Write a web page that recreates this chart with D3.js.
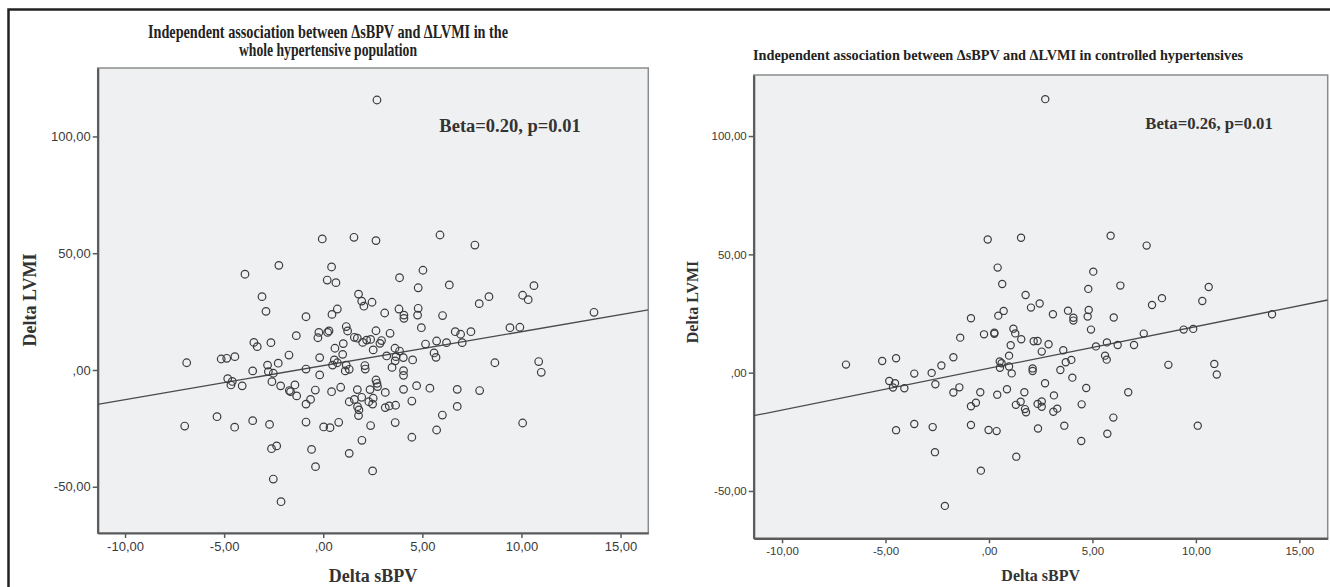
<!DOCTYPE html>
<html lang="en">
<head>
    <meta charset="UTF-8">
    <title>Delta sBPV vs Delta LVMI</title>
    <script src="https://d3js.org/d3.v7.min.js"></script>
    <style>
        body { margin: 0; background: #fff; }
        svg { display: block; }
    </style>
</head>
<body>
    <svg id="chart" width="1330" height="587"></svg>
    <script>
        // axis ticks (shared by both panels)
        var xTicks = [-10, -5, 0, 5, 10, 15];
        var yTicks = [-50, 0, 50, 100];

        var wholeTitle = ["Independent association between \u0394sBPV and \u0394LVMI in the", "whole hypertensive population"];
        var controlledTitle = ["Independent association between \u0394sBPV and \u0394LVMI in controlled hypertensives"];
        var wholeNote = "Beta=0.20, p=0.01";
        var controlledNote = "Beta=0.26, p=0.01";

        // fit line: [intercept, slope]
        var wholeFit = [1.85, 1.454];
        var controlledFit = [1.85, 1.763];

        // [delta sBPV, delta LVMI]
        var wholePoints = [
            [-0.05, 56.1], [1.55, 56.8], [2.66, 55.4], [5.89, 57.8], [7.65, 53.5],
            [-2.24, 44.8], [0.42, 44.1], [5.03, 42.7], [3.85, 39.5], [0.20, 38.5],
            [0.64, 37.4], [4.79, 35.2], [6.36, 36.4], [10.63, 36.1], [-3.09, 31.4],
            [1.78, 32.5], [8.36, 31.4], [7.87, 28.4], [10.06, 32.0], [10.34, 30.1],
            [1.94, 29.5], [2.05, 27.3], [2.46, 29.0], [0.71, 26.1], [0.44, 23.8],
            [-2.89, 25.1], [-0.87, 22.8], [3.10, 24.4], [3.82, 26.1], [4.07, 23.5],
            [4.07, 22.1], [4.79, 26.4], [4.76, 23.5], [6.02, 23.3], [1.16, 18.6],
            [1.23, 16.7], [0.29, 16.7], [0.22, 16.1], [-0.22, 16.1], [-0.27, 13.8],
            [-1.36, 14.7], [4.95, 18.1], [2.66, 16.8], [3.37, 15.7], [1.57, 14.0],
            [1.72, 13.6], [2.19, 12.8], [2.39, 13.1], [1.99, 11.8], [2.94, 12.6],
            [2.86, 11.4], [6.66, 16.4], [6.93, 15.3], [7.01, 11.7], [7.45, 16.4],
            [9.42, 18.1], [9.92, 18.3], [-3.50, 11.8], [-3.33, 10.0], [-2.64, 11.7],
            [1.01, 11.3], [0.59, 9.3], [2.52, 8.6], [3.62, 9.3], [3.85, 8.1],
            [5.16, 11.1], [5.72, 12.4], [6.22, 11.7], [5.59, 7.3], [5.69, 5.4],
            [-1.73, 6.4], [0.98, 6.7], [-0.18, 5.3], [3.20, 6.0], [3.67, 5.7],
            [4.04, 5.3], [4.51, 4.3], [3.63, 3.9], [0.56, 4.3], [0.47, 2.1],
            [0.71, 3.1], [1.16, 2.1], [1.31, 0.3], [1.11, -0.4], [2.10, 1.9],
            [2.12, 0.4], [3.47, 1.1], [4.05, -0.3], [4.05, -2.3], [8.66, 3.1],
            [10.87, 3.6], [11.00, -1.0], [-3.56, -0.4], [-2.81, 2.1], [-2.27, 2.9],
            [-2.77, -0.7], [-2.52, -1.4], [-0.87, 0.4], [-0.18, -2.1], [-2.59, -5.0],
            [-2.15, -6.8], [-1.71, -8.8], [-1.65, -9.3], [-1.43, -6.4], [-1.34, -11.1],
            [-0.40, -8.6], [-0.64, -12.6], [-0.87, -14.6], [0.42, -9.3], [0.88, -7.4],
            [1.72, -8.4], [2.36, -8.4], [2.66, -4.3], [2.71, -5.7], [2.74, -7.1],
            [3.13, -9.6], [4.05, -8.3], [4.71, -6.7], [5.38, -7.8], [6.76, -8.3],
            [7.89, -8.8], [1.31, -13.6], [1.57, -12.6], [1.73, -15.7], [1.80, -17.1],
            [1.78, -19.5], [1.94, -11.7], [2.30, -13.6], [2.52, -12.1], [2.49, -14.6],
            [3.13, -16.1], [3.33, -15.4], [3.65, -15.1], [4.47, -13.3], [6.01, -19.3],
            [6.76, -15.6], [-3.56, -21.7], [-2.71, -23.3], [-0.87, -22.3], [0.02, -24.4],
            [0.34, -24.7], [0.78, -22.4], [2.39, -23.8], [3.63, -22.5], [5.72, -25.7],
            [4.47, -28.8], [1.95, -30.1], [10.06, -22.7], [-2.61, -33.7], [-2.35, -32.5],
            [-0.59, -34.0], [1.31, -35.7], [-0.39, -41.4], [2.49, -43.2], [-2.52, -46.7],
            [2.71, 115.6], [-6.89, 3.1], [-5.15, 4.7], [-4.87, 5.0], [-4.46, 5.7],
            [-4.82, -3.7], [-4.59, -4.9], [-4.66, -6.4], [-4.09, -6.8], [-5.36, -20.0],
            [-6.99, -24.0], [-4.47, -24.5], [-2.13, -56.4], [-3.95, 41.0], [13.66, 24.7]
        ];

        var controlledPoints = [
            [-0.06, 56.3], [1.55, 57.0], [5.88, 57.9], [7.62, 53.7], [0.42, 44.4],
            [5.04, 42.7], [0.64, 37.5], [4.80, 35.4], [6.35, 36.8], [1.77, 32.8],
            [2.45, 29.2], [2.03, 27.5], [-0.87, 23.0], [0.45, 24.1], [0.71, 26.1],
            [3.09, 24.7], [3.82, 26.2], [4.08, 23.2], [4.08, 22.0], [4.82, 26.5],
            [4.77, 23.7], [6.03, 23.3], [7.88, 28.6], [8.36, 31.5], [-1.39, 14.8],
            [-0.24, 16.2], [0.26, 16.9], [0.26, 16.4], [1.18, 18.6], [1.27, 16.6],
            [1.56, 14.1], [4.93, 18.2], [2.16, 13.3], [2.35, 13.4], [2.88, 12.0],
            [1.05, 11.6], [2.55, 8.9], [3.59, 9.5], [5.17, 11.1], [5.70, 12.8],
            [6.22, 11.7], [7.01, 11.7], [7.48, 16.5], [9.41, 18.2], [-1.72, 6.5],
            [-2.30, 3.0], [-2.77, -0.1], [-3.61, -0.4], [-4.09, -6.6], [-2.59, -4.9],
            [0.52, 4.7], [0.61, 4.0], [0.53, 2.1], [0.97, 7.2], [0.97, 2.6],
            [1.10, -0.3], [2.11, 1.8], [2.11, 0.7], [3.45, 1.1], [3.71, 4.4],
            [3.98, 5.4], [5.61, 7.2], [5.69, 5.5], [4.03, -2.1], [2.71, -4.5],
            [8.67, 3.3], [-1.43, -6.2], [-1.72, -8.4], [-0.42, -8.3], [0.40, -9.3],
            [0.87, -7.0], [1.71, -8.3], [3.14, -9.6], [4.70, -6.5], [6.73, -8.3],
            [-0.63, -12.7], [-0.87, -14.2], [1.30, -13.6], [1.53, -12.3], [1.74, -15.4],
            [1.79, -16.7], [2.35, -13.2], [2.55, -12.2], [2.55, -14.4], [3.11, -16.5],
            [3.30, -15.2], [4.48, -13.4], [-3.61, -21.7], [-2.72, -23.0], [-0.87, -22.1],
            [-0.02, -24.2], [0.37, -24.7], [2.37, -23.6], [3.64, -22.4], [6.01, -19.0],
            [5.72, -25.8], [4.46, -28.9], [-2.61, -33.6], [1.32, -35.5], [-0.39, -41.4],
            [2.72, 115.6], [-6.91, 3.4], [-5.16, 4.9], [-4.49, 6.1], [-4.82, -3.5],
            [-4.54, -4.5], [-4.64, -6.3], [-4.49, -24.3], [-2.13, -56.3], [10.31, 30.3],
            [10.62, 36.2], [13.68, 24.7], [9.87, 18.5], [10.09, -22.4], [10.89, 3.7],
            [11.01, -0.8]
        ];

        var svg = d3.select("#chart");

        // outer frame of the figure
        svg.append("rect")
            .attr("x", 8.5).attr("y", 9.5)
            .attr("width", 1400).attr("height", 700)
            .attr("fill", "none")
            .attr("stroke", "#222")
            .attr("stroke-width", 2.5);

        function fmt(v) {
            if (v === 0) return ",00";
            return v.toFixed(2).replace(".", ",");
        }

        function drawPanel(p) {
            var x = d3.scaleLinear().domain(p.xDomain).range([p.left, p.right]);
            var y = d3.scaleLinear().domain(p.yDomain).range([p.bottom, p.top]);
            var g = svg.append("g");

            g.append("rect")
                .attr("x", p.left).attr("y", p.top)
                .attr("width", p.right - p.left).attr("height", p.bottom - p.top)
                .attr("fill", "#eff0f2")
                .attr("stroke", "#8c8c8c")
                .attr("stroke-width", 1.5);

            var ya = g.append("g")
                .attr("transform", "translate(" + p.left + ",0)")
                .call(d3.axisLeft(y).tickValues(yTicks).tickSize(5).tickSizeOuter(0).tickPadding(2).tickFormat(fmt));
            var xa = g.append("g")
                .attr("transform", "translate(0," + p.bottom + ")")
                .call(d3.axisBottom(x).tickValues(xTicks).tickSize(5).tickSizeOuter(0).tickPadding(4).tickFormat(fmt));

            [ya, xa].forEach(function(a) {
                a.select(".domain").attr("stroke", "#5a5a5a").attr("stroke-width", 2.2);
                a.selectAll(".tick line").attr("stroke", "#5a5a5a").attr("stroke-width", 1.5);
                a.selectAll(".tick text")
                    .attr("fill", "#3a3a3a")
                    .style("font-family", "'Liberation Sans', Arial, sans-serif")
                    .style("font-size", p.tickSize + "px");
            });

            var clipId = "clip" + p.id;
            g.append("clipPath").attr("id", clipId)
                .append("rect")
                .attr("x", p.left).attr("y", p.top)
                .attr("width", p.right - p.left).attr("height", p.bottom - p.top);

            var line = d3.line()
                .x(function(d) { return x(d); })
                .y(function(d) { return y(p.fit[0] + p.fit[1] * d); });

            g.append("path")
                .datum(p.xDomain)
                .attr("clip-path", "url(#" + clipId + ")")
                .attr("fill", "none")
                .attr("stroke", "#4a4a4a")
                .attr("stroke-width", 1.3)
                .attr("d", line);

            g.selectAll("circle.pt")
                .data(p.points)
                .enter().append("circle")
                .attr("class", "pt")
                .attr("cx", function(d) { return x(d[0]); })
                .attr("cy", function(d) { return y(d[1]); })
                .attr("r", p.radius)
                .attr("fill", "none")
                .attr("stroke", "#3c3c3c")
                .attr("stroke-width", 1.2);

            var serif = "'Liberation Serif', 'Times New Roman', serif";

            p.title.forEach(function(t, i) {
                g.append("text")
                    .attr("x", p.titleX)
                    .attr("y", p.titleY + i * p.titleGap)
                    .attr("text-anchor", "middle")
                    .attr("textLength", p.titleWidths[i])
                    .attr("lengthAdjust", "spacingAndGlyphs")
                    .style("font-family", serif)
                    .style("font-weight", "bold")
                    .style("font-size", p.titleSize + "px")
                    .attr("fill", "#222")
                    .text(t);
            });

            g.append("text")
                .attr("x", p.noteX).attr("y", p.noteY)
                .attr("text-anchor", "middle")
                .style("font-family", serif)
                .style("font-weight", "bold")
                .style("font-size", p.noteSize + "px")
                .attr("fill", "#333")
                .text(p.note);

            g.append("text")
                .attr("x", (p.left + p.right) / 2)
                .attr("y", p.xLabelY)
                .attr("text-anchor", "middle")
                .style("font-family", serif)
                .style("font-weight", "bold")
                .style("font-size", p.labelSize + "px")
                .attr("fill", "#333")
                .text("Delta sBPV");

            g.append("text")
                .attr("transform", "translate(" + p.yLabelX + "," + p.yLabelMid + ") rotate(-90)")
                .attr("text-anchor", "middle")
                .style("font-family", serif)
                .style("font-weight", "bold")
                .style("font-size", p.labelSize + "px")
                .attr("fill", "#333")
                .text("Delta LVMI");
        }

        drawPanel({
            id: "L",
            left: 97.7, right: 648.3, top: 68, bottom: 533,
            xDomain: [-11.38, 16.40], yDomain: [-69.8, 129.3],
            points: wholePoints, fit: wholeFit, radius: 3.8,
            title: wholeTitle, titleX: 328, titleY: 37.5, titleGap: 18.5, titleSize: 19, titleWidths: [360, 178],
            note: wholeNote, noteX: 510, noteY: 132, noteSize: 18.5,
            tickSize: 13, labelSize: 18, xLabelY: 582, yLabelX: 36, yLabelMid: 300
        });

        drawPanel({
            id: "R",
            left: 753.7, right: 1327.7, top: 75, bottom: 538.3,
            xDomain: [-11.37, 16.37], yDomain: [-70.0, 125.8],
            points: controlledPoints, fit: controlledFit, radius: 3.6,
            title: controlledTitle, titleX: 998, titleY: 60, titleGap: 0, titleSize: 15.5, titleWidths: [490],
            note: controlledNote, noteX: 1209, noteY: 129, noteSize: 16.7,
            tickSize: 11.5, labelSize: 16, xLabelY: 581, yLabelX: 698, yLabelMid: 302
        });
    </script>
</body>
</html>
